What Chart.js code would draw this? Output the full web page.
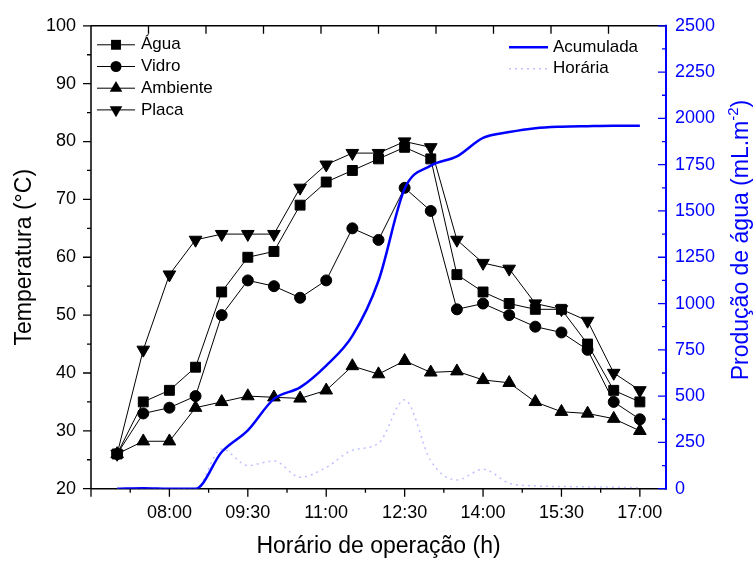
<!DOCTYPE html>
<html><head><meta charset="utf-8">
<script src="https://cdn.jsdelivr.net/npm/chart.js@4.4.1/dist/chart.umd.min.js"></script>
<style>html,body{margin:0;padding:0;background:#fff;}#wrap{width:756px;height:562px;}</style>
</head><body><div id="wrap"><canvas id="c" width="756" height="562"></canvas></div>
<script>
const times = ["07:00","07:30","08:00","08:30","09:00","09:30","10:00","10:30","11:00","11:30","12:00","12:30","13:00","13:30","14:00","14:30","15:00","15:30","16:00","16:30","17:00"];
const agua     = [26,35,37,41,54,60,61,69,73,75,77,79,77,57,54,52,51,51,45,37,35];
const vidro    = [26,33,34,36,50,56,55,53,56,65,63,72,68,51,52,50,48,47,44,35,32];
const ambiente = [26,28.2,28.2,34,35,36,35.8,35.6,37,41.2,39.8,42.1,40.1,40.3,38.8,38.3,35,33.3,33,32.1,30];
const placa    = [26,44,57,63,64,64,64,72,76,78,78,80,79,63,59,58,52,51,49,40,37];
const acumulada = [0,3,0,0,198,315,485,547,665,825,1123,1620,1745,1795,1895,1926,1947,1955,1958,1960,1960];
const horaria   = [0,0,0,0,215,125,150,62,115,208,245,480,150,47,105,30,15,12,10,8,5];
const xTickLabels = ["08:00","09:30","11:00","12:30","14:00","15:30","17:00"];
const leftTicks = [20,30,40,50,60,70,80,90,100];
const rightTicks = [0,250,500,750,1000,1250,1500,1750,2000,2250,2500];

const FONT = "'Liberation Sans', Arial, sans-serif";
Chart.defaults.font.family = FONT;
function toHours(s){const p=s.split(':').map(Number);return p[0]+p[1]/60;}
const xs = times.map(toHours);
const xTickValues = xTickLabels.map(toHours);
const pts = arr => arr.map((v,i)=>({x:xs[i],y:v}));
const BLUE = '#0000ff';
const HOR_COLOR = 'rgba(140,140,255,0.55)';

function tempSet(label, data, style, r, rot){
  return {label, data: pts(data), yAxisID:'y', borderColor:'#000', borderWidth:1,
    pointStyle:style, pointRadius:r, pointHoverRadius:r, rotation:rot||0,
    pointBackgroundColor:'#000', pointBorderColor:'#000', pointBorderWidth:1,
    tension:0, order:5, _legend:true};
}

function drawMarker(ctx, style, x, y, r, rot){
  ctx.beginPath();
  if(style==='rect'){const s=Math.SQRT1_2*r; ctx.rect(x-s,y-s,2*s,2*s);}
  else if(style==='circle'){ctx.arc(x,y,r,0,Math.PI*2);}
  else if(style==='triangle'){
    let a=(rot||0)*Math.PI/180;
    for(let k=0;k<3;k++){const px=x+Math.sin(a)*r, py=y-Math.cos(a)*r; k?ctx.lineTo(px,py):ctx.moveTo(px,py); a+=2*Math.PI/3;}
    ctx.closePath();
  }
  ctx.fill();
}

const frame = {
  id:'frame',
  beforeDatasetsDraw(chart){
    const {ctx, chartArea:a, scales} = chart;
    const X=scales.x, Y=scales.y, Y2=scales.y2, T=scales.xTop;
    ctx.save();
    ctx.strokeStyle='#000'; ctx.lineWidth=1.5;
    ctx.beginPath();
    ctx.moveTo(a.left,a.top); ctx.lineTo(a.left,a.bottom);
    ctx.moveTo(a.left,a.bottom); ctx.lineTo(a.right,a.bottom);
    ctx.moveTo(a.left,a.top); ctx.lineTo(a.right,a.top);
    ctx.stroke();
    ctx.lineWidth=1.3;
    ctx.beginPath();
    leftTicks.forEach(v=>{const y=Y.getPixelForValue(v); ctx.moveTo(a.left,y); ctx.lineTo(a.left-8,y);});
    for(let v=Y.min+5; v<Y.max; v+=10){const y=Y.getPixelForValue(v); ctx.moveTo(a.left,y); ctx.lineTo(a.left-4,y);}
    [X.min].concat(xTickValues).forEach(v=>{const x=X.getPixelForValue(v); ctx.moveTo(x,a.bottom); ctx.lineTo(x,a.bottom+8);});
    for(let v=X.min+0.75; v<X.max; v+=1.5){const x=X.getPixelForValue(v); ctx.moveTo(x,a.bottom); ctx.lineTo(x,a.bottom+4);}
    for(let k=T.min+1; k<T.max; k++){const x=T.getPixelForValue(k); ctx.moveTo(x,a.top); ctx.lineTo(x,a.top+8);}
    ctx.stroke();
    ctx.strokeStyle=BLUE; ctx.lineWidth=2;
    ctx.beginPath(); ctx.moveTo(a.right,a.top-1); ctx.lineTo(a.right,a.bottom+1); ctx.stroke();
    ctx.lineWidth=1.3; ctx.beginPath();
    rightTicks.forEach(v=>{const y=Y2.getPixelForValue(v); ctx.moveTo(a.right,y); ctx.lineTo(a.right-8,y);});
    for(let v=Y2.min+125; v<Y2.max; v+=250){const y=Y2.getPixelForValue(v); ctx.moveTo(a.right,y); ctx.lineTo(a.right-4,y);}
    ctx.stroke();
    ctx.restore();
  },
  afterDraw(chart){
    const {ctx, chartArea:a} = chart;
    ctx.save();
    const ds = chart.data.datasets.filter(d=>d._legend);
    ctx.font = '17px '+FONT; ctx.textBaseline='middle'; ctx.textAlign='left';
    ds.forEach((d,i)=>{
      const y = a.top + 19 + i*21.7;
      const x0 = a.left + 6;
      ctx.strokeStyle='#000'; ctx.lineWidth=1;
      ctx.beginPath(); ctx.moveTo(x0,y); ctx.lineTo(x0+38,y); ctx.stroke();
      ctx.fillStyle='#000';
      drawMarker(ctx, d.pointStyle, x0+19, y, d.pointRadius, d.rotation);
      ctx.fillText(d.label, x0+44, y);
    });
    const lx = 509;
    let y = a.top + 21.5;
    ctx.strokeStyle=BLUE; ctx.lineWidth=2.5;
    ctx.beginPath(); ctx.moveTo(lx,y); ctx.lineTo(lx+39,y); ctx.stroke();
    ctx.fillStyle='#000'; ctx.fillText('Acumulada', lx+44, y);
    y += 21.5;
    ctx.strokeStyle=HOR_COLOR; ctx.lineWidth=1.5; ctx.setLineDash([2,4]);
    ctx.beginPath(); ctx.moveTo(lx,y); ctx.lineTo(lx+39,y); ctx.stroke();
    ctx.setLineDash([]);
    ctx.fillText('Horária', lx+44, y);
    const main = 'Produção de água (mL.m', sup='-2', end=')';
    ctx.translate(742, 240); ctx.rotate(-Math.PI/2);
    ctx.fillStyle=BLUE; ctx.textBaseline='middle';
    ctx.font='23px '+FONT; const w1=ctx.measureText(main).width, w3=ctx.measureText(end).width;
    ctx.font='15px '+FONT; const w2=ctx.measureText(sup).width;
    let x = -(w1+w2+w3)/2;
    ctx.font='23px '+FONT; ctx.fillText(main, x, 0); x+=w1;
    ctx.font='15px '+FONT; ctx.fillText(sup, x, -8); x+=w2;
    ctx.font='23px '+FONT; ctx.fillText(end, x, 0);
    ctx.restore();
  }
};

new Chart(document.getElementById('c'), {
  type:'line',
  data:{datasets:[
    tempSet('Água', agua, 'rect', 7),
    tempSet('Vidro', vidro, 'circle', 5.5),
    tempSet('Ambiente', ambiente, 'triangle', 7.3),
    tempSet('Placa', placa, 'triangle', 7.3, 180),
    {label:'Acumulada', data:pts(acumulada), yAxisID:'y2', borderColor:BLUE, borderWidth:2.5,
      pointRadius:0, cubicInterpolationMode:'monotone', order:0},
    {label:'Horária', data:pts(horaria), yAxisID:'y2', borderColor:HOR_COLOR, borderWidth:1.5,
      borderDash:[2,4], pointRadius:0, cubicInterpolationMode:'monotone', order:1}
  ]},
  options:{
    responsive:false, animation:false, devicePixelRatio:1,
    layout:{padding:0},
    plugins:{legend:{display:false}, tooltip:{enabled:false}},
    scales:{
      x:{type:'linear', position:'bottom', min:6.5, max:17.5,
        afterBuildTicks:s=>{s.ticks = xTickValues.map(v=>({value:v}));},
        afterFit:s=>{s.height=73.3;},
        ticks:{callback:(v,i)=>xTickLabels[i], font:{size:18}, color:'#000', padding:14, maxRotation:0, autoSkip:false},
        grid:{display:false, drawTicks:false}, border:{display:false},
        title:{display:true, text:'Horário de operação (h)', font:{size:23}, color:'#000', padding:{top:0,bottom:2}}},
      xTop:{type:'linear', position:'top', min:0, max:10,
        afterFit:s=>{s.height=22.7;},
        ticks:{display:false}, grid:{display:false, drawTicks:false}, border:{display:false}},
      y:{type:'linear', position:'left', min:20, max:100,
        afterBuildTicks:s=>{s.ticks = leftTicks.map(v=>({value:v}));},
        afterFit:s=>{s.width=91;},
        ticks:{callback:v=>String(v), font:{size:18}, color:'#000', padding:15},
        grid:{display:false, drawTicks:false}, border:{display:false},
        title:{display:true, text:'Temperatura (°C)', font:{size:23}, color:'#000', padding:{top:11,bottom:0}}},
      y2:{type:'linear', position:'right', min:0, max:2500,
        afterBuildTicks:s=>{s.ticks = rightTicks.map(v=>({value:v}));},
        afterFit:s=>{s.width=90;},
        ticks:{callback:v=>String(v), font:{size:18}, color:BLUE, padding:9},
        grid:{display:false, drawTicks:false}, border:{display:false}}
    }
  },
  plugins:[frame]
});
</script></body></html>
